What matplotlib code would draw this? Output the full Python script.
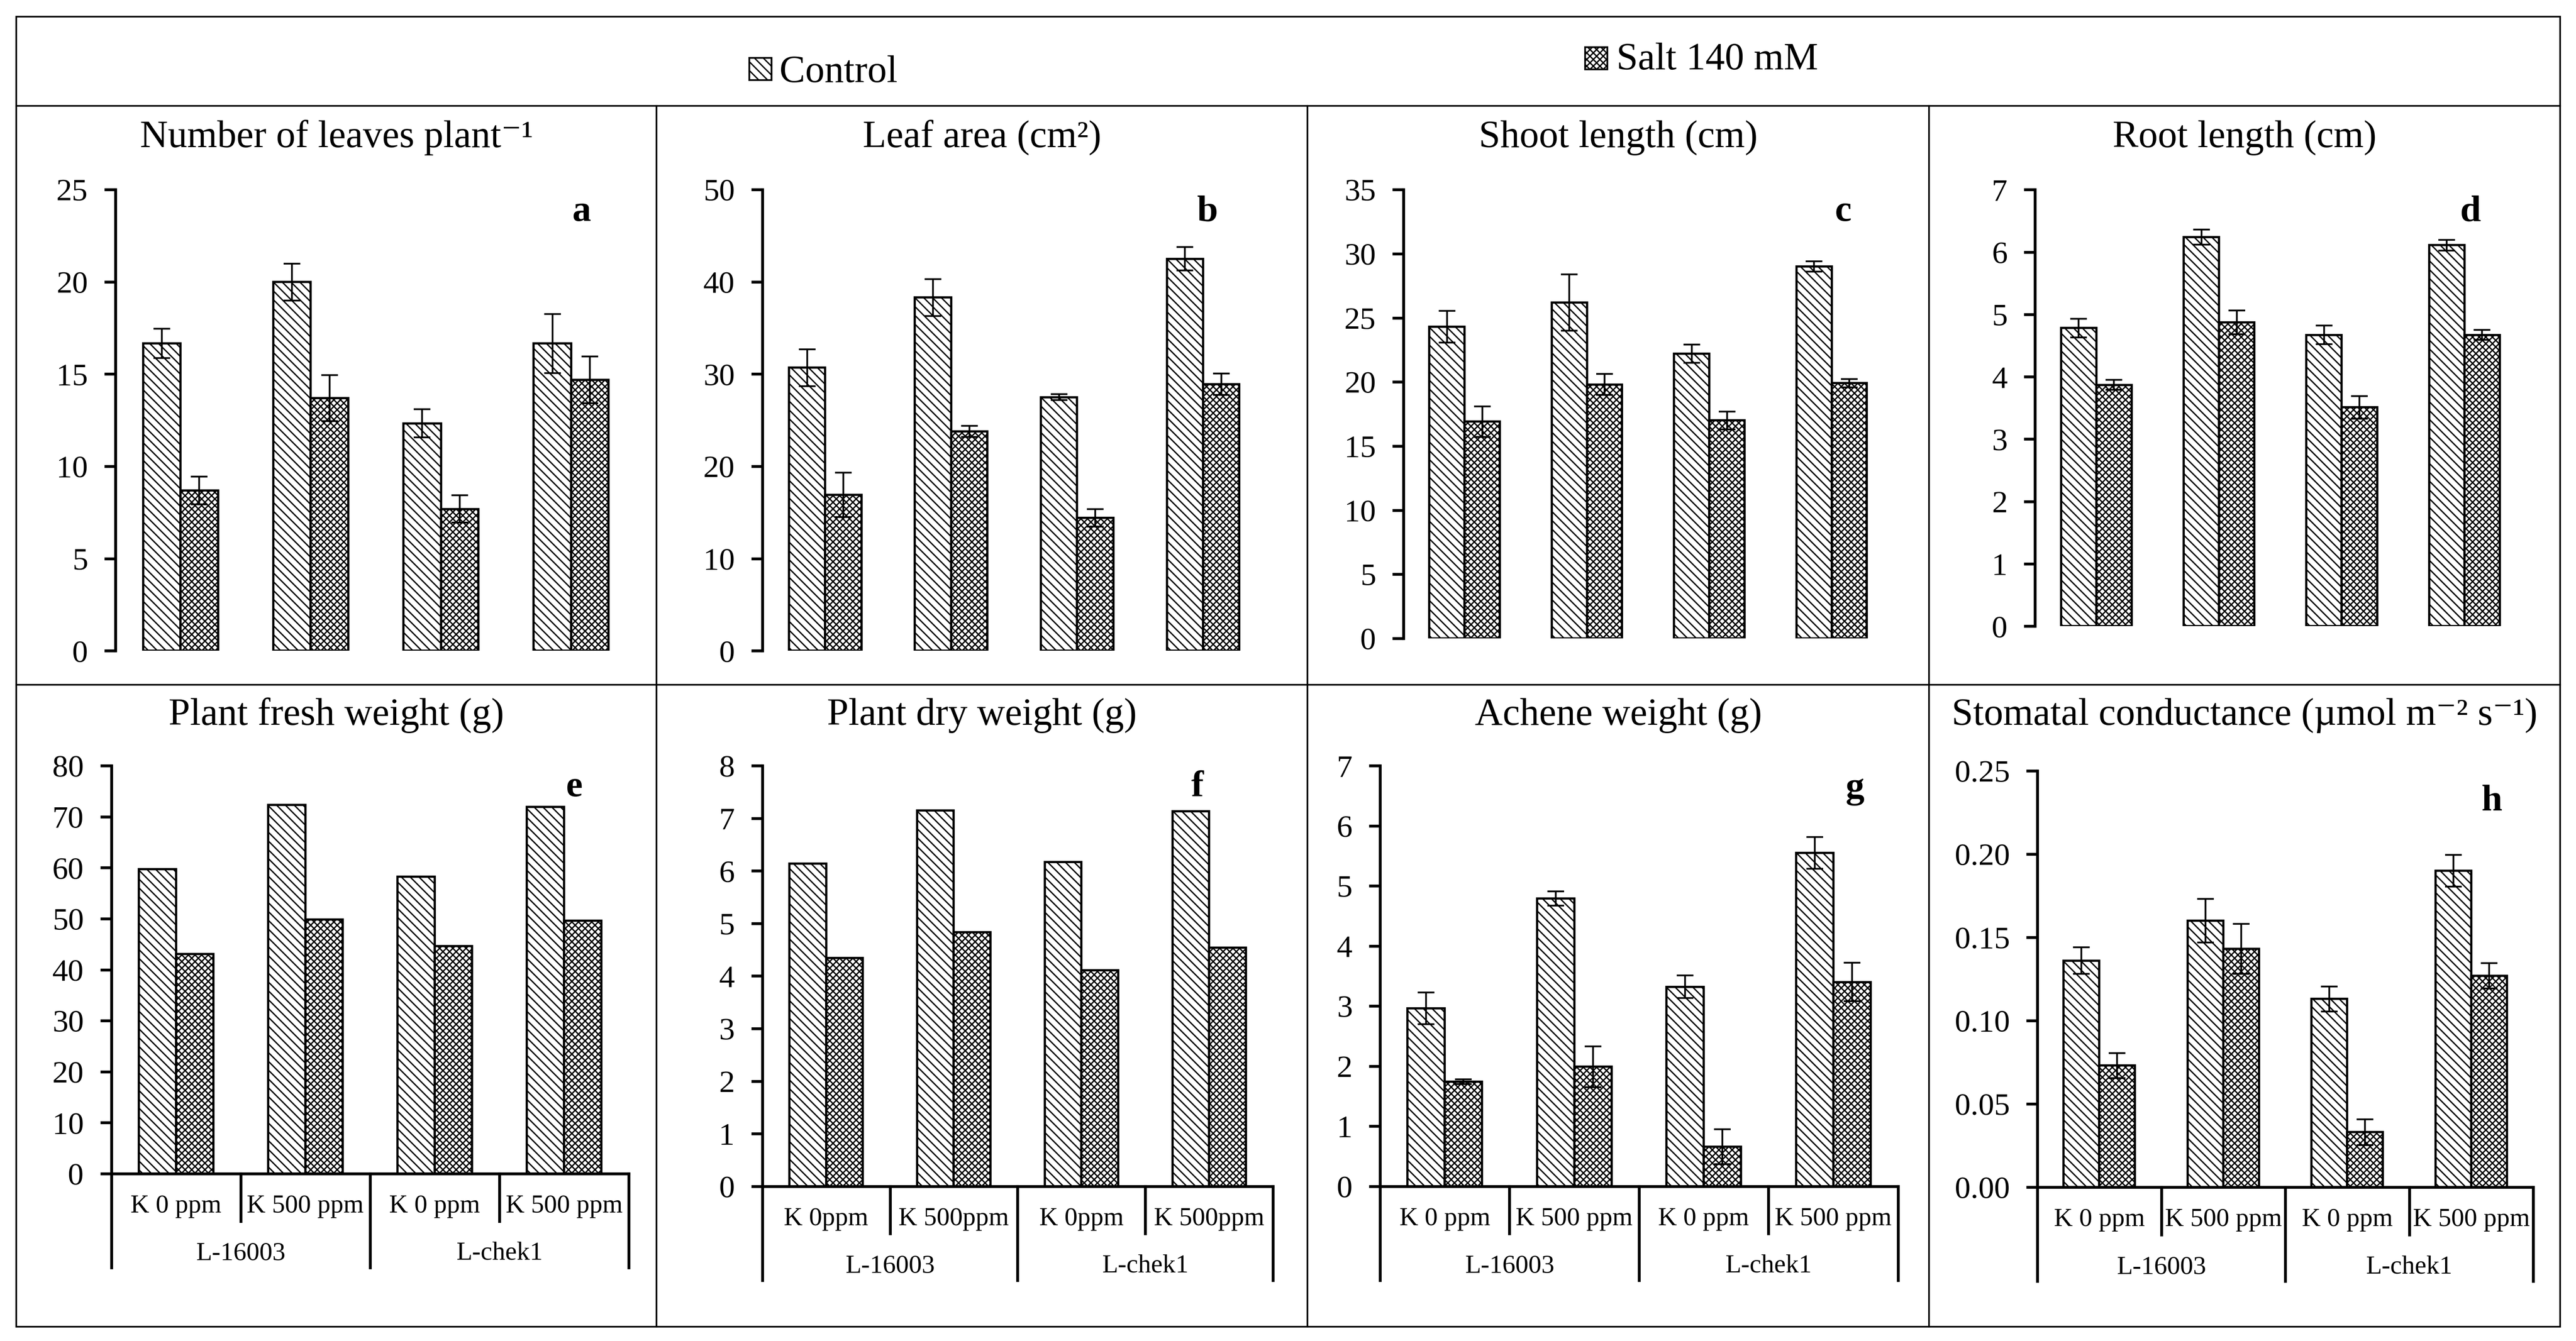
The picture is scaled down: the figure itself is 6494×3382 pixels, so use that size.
import numpy as np
import matplotlib
matplotlib.use('Agg')
import matplotlib.pyplot as plt
from matplotlib.patches import Rectangle
from matplotlib.lines import Line2D

plt.rcParams['font.family'] = ['Liberation Serif', 'DejaVu Serif']
plt.rcParams['hatch.linewidth'] = 0.6

W, H = 6494, 3382
DPI = 400

# x labels of the bottom row
treat_labels = ['K 0 ppm', 'K 500 ppm', 'K 0 ppm', 'K 500 ppm']
treat_labels_f = ['K 0ppm', 'K 500ppm', 'K 0ppm', 'K 500ppm']
genotypes = ['L-16003', 'L-chek1']

# a - number of leaves
leaves_ctrl = [16.66, 19.99, 12.33, 16.66]
leaves_ctrl_err = [0.80, 1.00, 0.77, 1.60]
leaves_salt = [8.69, 13.70, 7.69, 14.68]
leaves_salt_err = [0.75, 1.25, 0.75, 1.27]

# b - leaf area
area_ctrl = [30.7, 38.3, 27.5, 42.5]
area_ctrl_err = [2.0, 2.0, 0.33, 1.27]
area_salt = [16.9, 23.8, 14.4, 28.9]
area_salt_err = [2.4, 0.6, 0.94, 1.15]

# c - shoot length
shoot_ctrl = [24.3, 26.2, 22.2, 29.0]
shoot_ctrl_err = [1.24, 2.2, 0.7, 0.41]
shoot_salt = [16.9, 19.8, 17.0, 19.9]
shoot_salt_err = [1.18, 0.82, 0.7, 0.32]

# d - root length
root_ctrl = [4.78, 6.24, 4.67, 6.11]
root_ctrl_err = [0.15, 0.12, 0.15, 0.085]
root_salt = [3.87, 4.87, 3.51, 4.67]
root_salt_err = [0.08, 0.19, 0.18, 0.08]

# e - fresh weight (no error bars)
fresh_ctrl = [59.7, 72.3, 58.2, 71.9]
fresh_salt = [43.1, 49.8, 44.6, 49.6]

# f - dry weight (no error bars)
dry_ctrl = [6.14, 7.15, 6.17, 7.13]
dry_salt = [4.34, 4.83, 4.11, 4.54]

# g - achene weight
achene_ctrl = [2.96, 4.79, 3.32, 5.55]
achene_ctrl_err = [0.265, 0.12, 0.19, 0.265]
achene_salt = [1.74, 1.99, 0.66, 3.40]
achene_salt_err = [0.04, 0.34, 0.29, 0.32]

# h - stomatal conductance
stom_ctrl = [0.136, 0.160, 0.113, 0.190]
stom_ctrl_err = [0.008, 0.013, 0.0075, 0.0096]
stom_salt = [0.073, 0.143, 0.033, 0.127]
stom_salt_err = [0.0076, 0.015, 0.0078, 0.0076]

# panel setup: title, letter, data, y max, y step, tick format, axes box (left, right, bottom, top), letter pos
panels = [
    dict(title='Number of leaves plant\u207b\u00b9', letter='a', ctrl=leaves_ctrl, ce=leaves_ctrl_err,
         salt=leaves_salt, se=leaves_salt_err, ymax=25, step=5, fmt='{:.0f}',
         box=(0.0448, 0.2470, 0.5147, 0.8586), lpos=(0.2258, 0.8353), cell=0.1306, row=0),
    dict(title='Leaf area (cm\u00b2)', letter='b', ctrl=area_ctrl, ce=area_ctrl_err,
         salt=area_salt, se=area_salt_err, ymax=50, step=10, fmt='{:.0f}',
         box=(0.2959, 0.4915, 0.5147, 0.8586), lpos=(0.4688, 0.8353), cell=0.3812, row=0),
    dict(title='Shoot length (cm)', letter='c', ctrl=shoot_ctrl, ce=shoot_ctrl_err,
         salt=shoot_salt, se=shoot_salt_err, ymax=35, step=5, fmt='{:.0f}',
         box=(0.5448, 0.7348, 0.5240, 0.8586), lpos=(0.7156, 0.8353), cell=0.6282, row=0),
    dict(title='Root length (cm)', letter='d', ctrl=root_ctrl, ce=root_ctrl_err,
         salt=root_salt, se=root_salt_err, ymax=7, step=1, fmt='{:.0f}',
         box=(0.7900, 0.9805, 0.5330, 0.8586), lpos=(0.9590, 0.8353), cell=0.8713, row=0),
    dict(title='Plant fresh weight (g)', letter='e', ctrl=fresh_ctrl, ce=None,
         salt=fresh_salt, se=None, ymax=80, step=10, fmt='{:.0f}', xl=treat_labels,
         box=(0.0432, 0.2441, 0.1248, 0.4290), lpos=(0.2230, 0.4064), cell=0.1306, row=1),
    dict(title='Plant dry weight (g)', letter='f', ctrl=dry_ctrl, ce=None,
         salt=dry_salt, se=None, ymax=8, step=1, fmt='{:.0f}', xl=treat_labels_f,
         box=(0.2959, 0.4942, 0.1154, 0.4290), lpos=(0.4647, 0.4064), cell=0.3812, row=1),
    dict(title='Achene weight (g)', letter='g', ctrl=achene_ctrl, ce=achene_ctrl_err,
         salt=achene_salt, se=achene_salt_err, ymax=7, step=1, fmt='{:.0f}', xl=treat_labels,
         box=(0.5357, 0.7368, 0.1154, 0.4290), lpos=(0.7200, 0.4050), cell=0.6282, row=1),
    dict(title='Stomatal conductance (\u00b5mol m\u207b\u00b2 s\u207b\u00b9)', letter='h', ctrl=stom_ctrl,
         ce=stom_ctrl_err, salt=stom_salt, se=stom_salt_err, ymax=0.25, step=0.05, fmt='{:.2f}',
         xl=treat_labels, box=(0.7909, 0.9834, 0.1147, 0.4252), lpos=(0.9674, 0.3955), cell=0.8713, row=1),
]

fig = plt.figure(figsize=(W / DPI, H / DPI), dpi=DPI)

bw = 0.288
x = np.arange(4)
title_y = [0.8904, 0.4596]

for p in panels:
    l, r, b, t = p['box']
    ax = fig.add_axes([l, b, r - l, t - b])
    ax.bar(x - bw / 2, p['ctrl'], bw, facecolor='white', edgecolor='black', linewidth=1.0,
           hatch='\\\\\\\\\\\\', zorder=2)
    ax.bar(x + bw / 2, p['salt'], bw, facecolor='white', edgecolor='black', linewidth=1.0,
           hatch='xxxxxxxx', zorder=2)
    if p['ce'] is not None:
        ax.errorbar(x - bw / 2, p['ctrl'], yerr=p['ce'], fmt='none', ecolor='black',
                    elinewidth=0.8, capsize=3.8, capthick=0.8, zorder=3)
        ax.errorbar(x + bw / 2, p['salt'], yerr=p['se'], fmt='none', ecolor='black',
                    elinewidth=0.8, capsize=3.8, capthick=0.8, zorder=3)
    ax.set_xlim(-0.5, 3.5)
    ax.set_ylim(0, p['ymax'])
    ticks = np.arange(0, p['ymax'] + p['step'] / 2, p['step'])
    ax.set_yticks(ticks)
    ax.set_yticklabels([p['fmt'].format(v) for v in ticks])
    ax.tick_params(axis='y', direction='out', length=5, width=1.3, pad=7.5, labelsize=14.3)
    ax.tick_params(axis='x', length=0, labelbottom=False)
    for s in ['top', 'right']:
        ax.spines[s].set_visible(False)
    ax.spines['left'].set_linewidth(1.3)
    ax.patch.set_alpha(0)

    if p['row'] == 0:
        ax.spines['bottom'].set_visible(False)
    else:
        ax.spines['bottom'].set_linewidth(1.3)
        hpx = (t - b) * H
        short = -119.6 / hpx
        long_ = -237.0 / hpx
        trans = ax.get_xaxis_transform()
        for xb, yb in zip([-0.5, 0.5, 1.5, 2.5, 3.5], [long_, short, long_, short, long_]):
            ax.plot([xb, xb], [0, yb], transform=trans, clip_on=False, color='black', lw=1.3)
        for i, lab in enumerate(p['xl']):
            ax.text(i, -98.0 / hpx, lab, transform=trans, ha='center', va='baseline', fontsize=11.8)
        for g, lab in enumerate(genotypes):
            ax.text(2 * g + 0.5, -218.0 / hpx, lab, transform=trans, ha='center', va='baseline',
                    fontsize=11.8)

    fig.text(p['cell'], title_y[p['row']], p['title'], ha='center', va='baseline', fontsize=17.5)
    fig.text(p['lpos'][0], p['lpos'][1], p['letter'], ha='center', va='baseline',
             fontsize=17, fontweight='bold')

# table frame
lw_frame = 0.75
fig.add_artist(Rectangle((0.0063, 0.0106), 0.9938 - 0.0063, 0.9877 - 0.0106, transform=fig.transFigure,
                         fill=False, edgecolor='black', linewidth=lw_frame))
fig.add_artist(Line2D([0.0063, 0.9938], [0.9211, 0.9211], transform=fig.transFigure,
                      color='black', lw=lw_frame))
fig.add_artist(Line2D([0.0063, 0.9938], [0.4893, 0.4893], transform=fig.transFigure,
                      color='black', lw=lw_frame))
for xc in [0.2548, 0.5075, 0.7488]:
    fig.add_artist(Line2D([xc, xc], [0.0106, 0.9211], transform=fig.transFigure,
                          color='black', lw=lw_frame))

# legend
fig.add_artist(Rectangle((0.2909, 0.9403), 56 / W, 56 / H, transform=fig.transFigure,
                         facecolor='white', edgecolor='black', linewidth=0.8, hatch='\\\\\\\\\\\\'))
fig.text(0.3026, 0.9389, 'Control', ha='left', va='baseline', fontsize=17.5)
fig.add_artist(Rectangle((0.6153, 0.9483), 56 / W, 56 / H, transform=fig.transFigure,
                         facecolor='white', edgecolor='black', linewidth=0.8, hatch='xxxxxxxx'))
fig.text(0.6275, 0.9483, 'Salt 140 mM', ha='left', va='baseline', fontsize=17.5)

fig.savefig('out.png', dpi=DPI, facecolor='white')
